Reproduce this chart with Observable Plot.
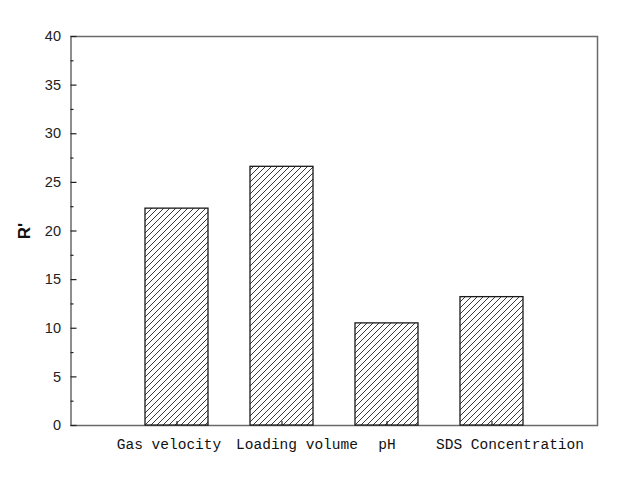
<!DOCTYPE html>
<html>
<head>
<meta charset="utf-8">
<script src="https://cdn.jsdelivr.net/npm/d3@7"></script>
<script src="https://cdn.jsdelivr.net/npm/@observablehq/plot@0.6"></script>
<style>
  body { margin: 0; background: #fff; }
  #chart svg { display: block; }
</style>
</head>
<body>
<div id="chart"></div>
<script>
const categories = ["Gas velocity", "Loading volume", "pH", "SDS Concentration"];
const values = [22.3, 26.6, 10.5, 13.2];
const majorTicks = [0, 5, 10, 15, 20, 25, 30, 35, 40];
const minorTicks = [2.5, 7.5, 12.5, 17.5, 22.5, 27.5, 32.5, 37.5];
const yLabel = "R'";

const data = categories.map((c, i) => ({category: c, value: values[i]}));

// label nudges (styling only) so the long category names do not collide
const labelShift = {"Gas velocity": -8, "Loading volume": 15, "pH": 0, "SDS Concentration": 18};

const W = 639, H = 485, ML = 70.5, MR = 42, MT = 36, MB = 60;
const frameW = W - ML - MR, frameH = H - MT - MB;

const chart = Plot.plot({
  width: W,
  height: H,
  marginLeft: ML,
  marginRight: MR,
  marginTop: MT,
  marginBottom: MB,
  style: {background: "#fff", overflow: "visible"},
  x: {domain: categories, paddingInner: 0.4, paddingOuter: 0.7, label: null, axis: null},
  y: {domain: [0, 40], label: null, axis: null},
  marks: [
    Plot.frame({stroke: "#6a6a6a", strokeWidth: 1.5}),
    Plot.barY(data, {x: "category", y: "value", fill: "url(#hatch)", stroke: "#1a1a1a", strokeWidth: 1.3}),
    // inward minor and major ticks on left axis
    Plot.ruleY(minorTicks, {y: d => d, insetRight: frameW - 3, stroke: "#222", strokeWidth: 1.2}),
    Plot.ruleY(majorTicks, {y: d => d, insetRight: frameW - 6, stroke: "#222", strokeWidth: 1.2}),
    // inward ticks on bottom axis at category centers
    Plot.ruleX(categories, {x: d => d, insetTop: frameH - 4, stroke: "#222", strokeWidth: 1.2}),
    Plot.axisY(majorTicks, {
      tickSize: 0, tickPadding: 10, line: true, stroke: "#2a2a2a", strokeWidth: 2,
      fontSize: 14.5, fontFamily: "Liberation Sans, Arial, sans-serif", fill: "#222",
      label: yLabel, labelAnchor: "center", labelOffset: 53, labelArrow: "none"
    }),
    Plot.axisX({
      tickSize: 0, tickFormat: () => "", line: true, stroke: "#2a2a2a", strokeWidth: 2, label: null
    }),
    ...categories.map(c => Plot.text([c], {
      x: d => d, text: d => d, frameAnchor: "bottom", dy: 23, dx: labelShift[c],
      fontSize: 14.5, fontFamily: "Liberation Mono, DejaVu Sans Mono, monospace", fill: "#111"
    }))
  ]
});

// hatch pattern definition (45° diagonal lines)
const svgNS = "http://www.w3.org/2000/svg";
const defs = document.createElementNS(svgNS, "defs");
defs.innerHTML = `<pattern id="hatch" patternUnits="userSpaceOnUse" width="6" height="6">
  <rect width="6" height="6" fill="#fff"/>
  <path d="M0,6 L6,0 M-1,1 L1,-1 M5,7 L7,5" stroke="#222" stroke-width="0.9"/>
</pattern>`;
chart.insertBefore(defs, chart.firstChild);

// style y-axis label
chart.querySelectorAll("[aria-label='y-axis label'] text, [aria-label='y-axis label']").forEach(el => {
  el.setAttribute("font-size", "17");
  el.setAttribute("font-weight", "bold");
  el.setAttribute("font-family", "Liberation Sans, Arial, sans-serif");
  el.setAttribute("fill", "#111");
});

document.getElementById("chart").appendChild(chart);
</script>
</body>
</html>
